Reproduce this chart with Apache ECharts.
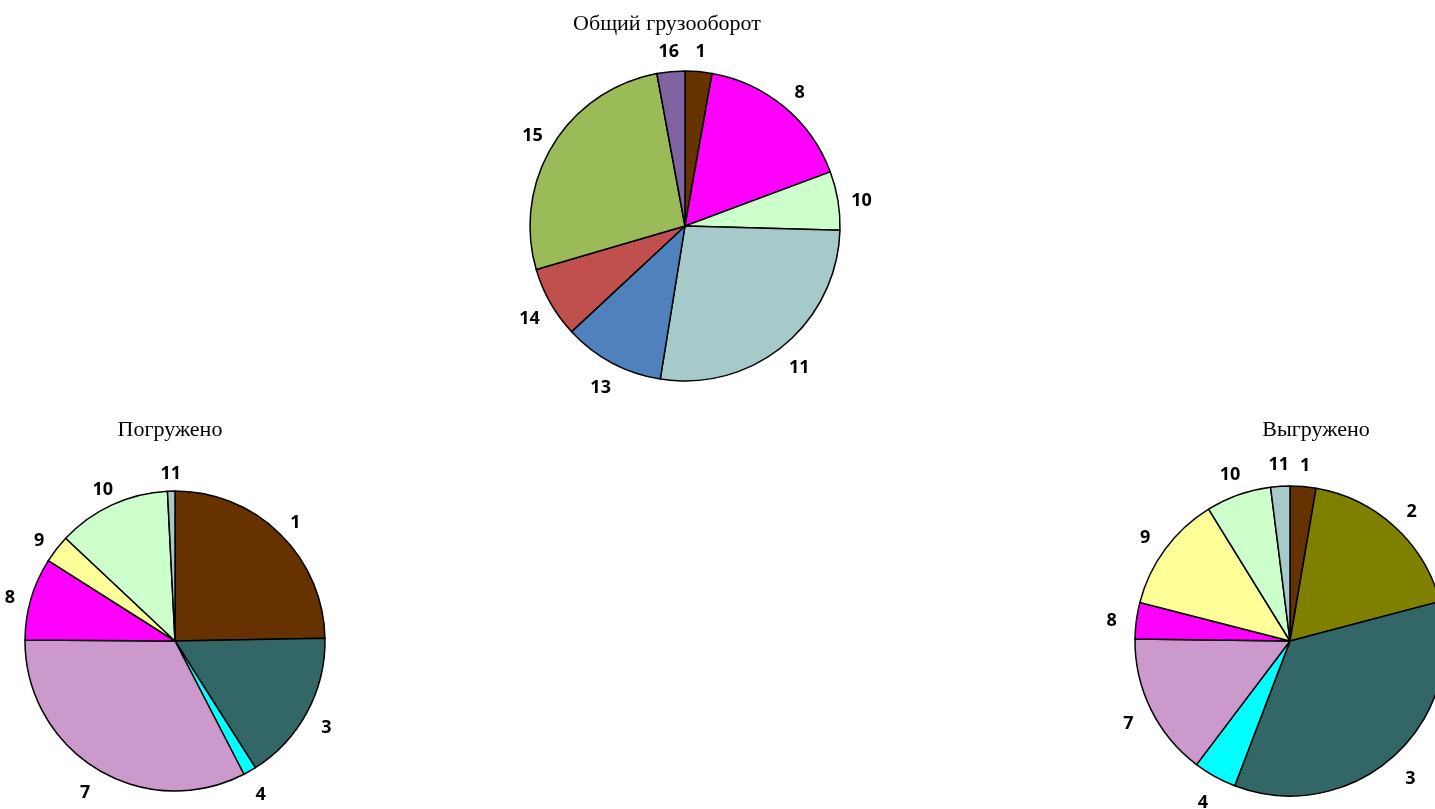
<!DOCTYPE html>
<html>
<head>
<meta charset="utf-8">
<script src="https://cdn.jsdelivr.net/npm/echarts@6/dist/echarts.min.js"></script>
<style>
html,body{margin:0;padding:0;background:#fff;}
#chart{width:1435px;height:809px;}
</style>
</head>
<body>
<div id="chart"></div>
<script>
// Общий грузооборот
const totalCats = ['1', '8', '10', '11', '13', '14', '15', '16'];
const totalVals = [2.8, 16.5, 6.1, 27.1, 10.5, 7.4, 26.6, 2.9];
// Погружено
const loadedCats = ['1', '3', '4', '7', '8', '9', '10', '11'];
const loadedVals = [24.7, 16.3, 1.4, 32.7, 8.9, 3.0, 12.2, 0.8];
// Выгружено
const unloadedCats = ['1', '2', '3', '4', '7', '8', '9', '10', '11'];
const unloadedVals = [2.7, 18.2, 34.9, 4.5, 14.9, 3.8, 12.2, 6.8, 2.0];

const titles = ['Общий грузооборот', 'Погружено', 'Выгружено'];

const colorMap = {
  '1': '#663300', '2': '#808000', '3': '#336666', '4': '#00FFFF',
  '7': '#CC99CC', '8': '#FF00FF', '9': '#FFFF99', '10': '#CCFFCC',
  '11': '#A6CACA', '13': '#4F81BD', '14': '#C0504D', '15': '#9BBB59',
  '16': '#8064A2'
};

function mk(cats, vals) {
  return cats.map((c, i) => ({ name: c, value: vals[i], itemStyle: { color: colorMap[c] } }));
}
function mkLabel(cats, vals) {
  return cats.map((c, i) => ({ name: c, value: vals[i] }));
}

const labelFont = { fontFamily: 'Open Sans', fontWeight: 'bold', fontSize: 18, color: '#000' };

function pie(center, r, cats, vals) {
  return {
    type: 'pie', center: center, radius: [0, r], startAngle: 90, clockwise: true,
    silent: true, animation: false,
    label: { show: false }, labelLine: { show: false },
    itemStyle: { borderColor: '#000', borderWidth: 1.5 },
    data: mk(cats, vals)
  };
}
function ring(center, r0, r1, dy, cats, vals) {
  return {
    type: 'pie', center: center, radius: [r0, r1], startAngle: 90, clockwise: true,
    silent: true, animation: false,
    itemStyle: { color: 'rgba(0,0,0,0)', borderWidth: 0 },
    label: Object.assign({ show: true, position: 'inside', formatter: '{b}', rotate: 0, offset: [0, dy] }, labelFont),
    labelLine: { show: false },
    emphasis: { disabled: true },
    data: mkLabel(cats, vals)
  };
}

const chart = echarts.init(document.getElementById('chart'), null, { renderer: 'canvas' });
const titleStyle = { fontFamily: 'Liberation Serif', fontSize: 22, fontWeight: 'normal', color: '#000' };
chart.setOption({
  backgroundColor: '#fff',
  animation: false,
  title: [
    { text: titles[0], left: 662, top: 8, textAlign: 'center', textStyle: titleStyle },
    { text: titles[1], left: 165, top: 414, textAlign: 'center', textStyle: titleStyle },
    { text: titles[2], left: 1311, top: 414, textAlign: 'center', textStyle: titleStyle }
  ],
  series: [
    pie([685, 226], 155, totalCats, totalVals),
    ring([685, 226], 158, 194, 4, totalCats, totalVals),
    pie([175, 641], 150, loadedCats, loadedVals),
    ring([175, 641], 152, 186, 5, loadedCats, loadedVals),
    pie([1290, 641], 155, unloadedCats, unloadedVals),
    ring([1290, 641], 160, 194, 4, unloadedCats, unloadedVals)
  ]
});
</script>
</body>
</html>
